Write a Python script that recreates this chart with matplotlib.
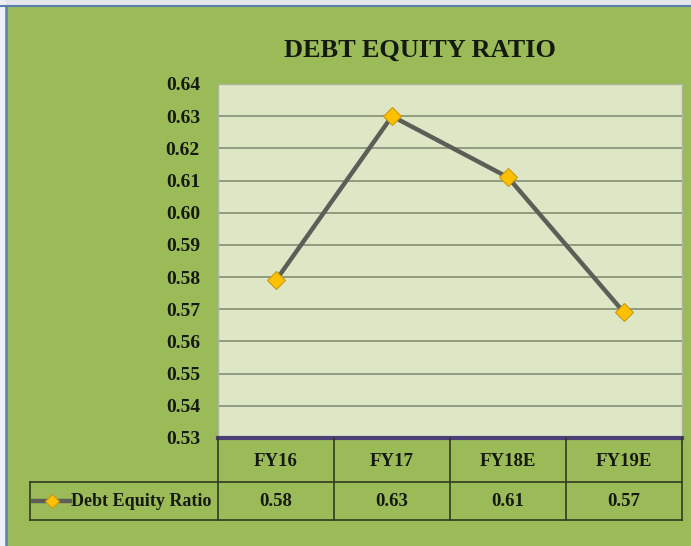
import numpy as np
import matplotlib
matplotlib.use('Agg')
import matplotlib.pyplot as plt
from matplotlib.patches import Rectangle
from matplotlib.lines import Line2D

# data
categories = ['FY16', 'FY17', 'FY18E', 'FY19E']
ratio = [0.579, 0.630, 0.611, 0.569]
series_name = 'Debt Equity Ratio'
yticks = [0.53, 0.54, 0.55, 0.56, 0.57, 0.58, 0.59, 0.60, 0.61, 0.62, 0.63, 0.64]

W, H = 691, 546
green = '#9bbb59'
plot_bg = '#dde7c6'
grid_c = '#89957a'
line_c = '#5b5f57'
marker_c = '#ffc000'
text_c = '#151a10'
font = 'Liberation Serif'

fig = plt.figure(figsize=(W/100, H/100), dpi=100, facecolor=green)

# window-ish frame: light strip on top, blue border lines
fig.add_artist(Rectangle((0, 1-5/H), 1, 5/H, transform=fig.transFigure, color='#e4e4ec', zorder=0))
fig.add_artist(Rectangle((0, 0), 5/W, 1, transform=fig.transFigure, color='#eef0f4', zorder=0))
fig.add_artist(Line2D([0, 1], [1-6/H, 1-6/H], transform=fig.transFigure, color='#5b80ad', lw=1.5))
fig.add_artist(Line2D([6/W, 6/W], [0, 1-6/H], transform=fig.transFigure, color='#5b80ad', lw=1.8))

# plot area
x0, x1, ytop, ybot = 218, 682, 84, 438
ax = fig.add_axes([x0/W, 1-ybot/H, (x1-x0)/W, (ybot-ytop)/H])
ax.set_facecolor(plot_bg)
x = np.arange(len(categories))
ax.plot(x, ratio, color=line_c, lw=3.2, marker='D', ms=9.5, mfc=marker_c, mec='#c89a10', mew=0.8, zorder=3)
ax.set_xlim(-0.5, len(categories)-0.5)
ax.set_ylim(yticks[0], yticks[-1])
ax.set_yticks(yticks)
ax.set_yticklabels(['%.2f' % v for v in yticks], fontfamily=font, fontweight='bold', fontsize=14, color=text_c)
ax.set_xticks([])
ax.tick_params(axis='y', length=0, pad=13)
ax.grid(axis='y', color=grid_c, lw=1.3)
ax.set_axisbelow(True)
for s in ['top', 'right', 'left']:
    ax.spines[s].set_color('#aab59a')
    ax.spines[s].set_linewidth(1)
ax.spines['bottom'].set_color('#4a3f78')
ax.spines['bottom'].set_linewidth(3)
ax.spines['bottom'].set_zorder(5)

fig.text(420/W, 1-50/H, 'DEBT EQUITY RATIO', ha='center', va='center', fontfamily=font,
         fontweight='bold', fontsize=19, color=text_c)

# data table below the plot
t_top, t_mid, t_bot = 438, 482, 520
tb = fig.add_axes([x0/W, 1-t_bot/H, (x1-x0)/W, (t_bot-t_top)/H], sharex=ax)
tb.set_ylim(t_bot, t_top)
tb.axis('off')
edge = '#2f3a22'
left = -0.5 - (x0-30)/116.0
for i in range(len(categories)+1):
    tb.plot([i-0.5, i-0.5], [t_top, t_bot], color=edge, lw=1.2, clip_on=False)
tb.plot([left, left], [t_mid, t_bot], color=edge, lw=1.2, clip_on=False)
tb.plot([left, len(categories)-0.5], [t_mid, t_mid], color=edge, lw=1.2, clip_on=False)
tb.plot([left, len(categories)-0.5], [t_bot, t_bot], color=edge, lw=1.2, clip_on=False)
for i, c in enumerate(categories):
    tb.text(i, (t_top+t_mid)/2+2, c, ha='center', va='center', fontfamily=font,
            fontweight='bold', fontsize=13.5, color=text_c)
    tb.text(i, (t_mid+t_bot)/2+1, '%.2f' % ratio[i], ha='center', va='center', fontfamily=font,
            fontweight='bold', fontsize=13.5, color=text_c)
# legend key inside the table
kx0 = left + 3/116.0
kx1 = left + 40/116.0
ym = (t_mid+t_bot)/2
tb.plot([kx0, kx1], [ym, ym], color=line_c, lw=3.2, clip_on=False)
tb.plot([(kx0+kx1)/2], [ym], marker='D', ms=7.5, mfc=marker_c, mec='#c89a10', mew=0.8, clip_on=False)
tb.text(kx1+1/116.0, ym+1, series_name, ha='left', va='center', fontfamily=font,
        fontweight='bold', fontsize=13, color=text_c)

fig.savefig('out.png', dpi=100, facecolor=green)
